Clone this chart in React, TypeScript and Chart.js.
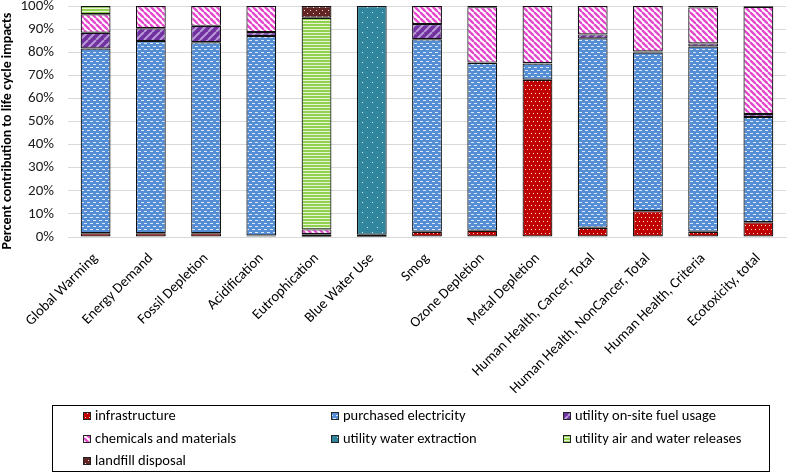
import React, { useEffect, useRef } from "react";
import { Chart, registerables } from "chart.js";

Chart.register(...registerables);

const categories = [
  "Global Warming",
  "Energy Demand",
  "Fossil Depletion",
  "Acidification",
  "Eutrophication",
  "Blue Water Use",
  "Smog",
  "Ozone Depletion",
  "Metal Depletion",
  "Human Health, Cancer, Total",
  "Human Health, NonCancer, Total",
  "Human Health, Criteria",
  "Ecotoxicity, total",
];

const seriesNames = [
  "infrastructure",
  "purchased electricity",
  "utility on-site fuel usage",
  "chemicals and materials",
  "utility water extraction",
  "utility air and water releases",
  "landfill disposal",
];

const infrastructure = [1.6, 1.6, 1.6, 0.7, 0.1, 0.1, 2.3, 2.7, 68.1, 4.0, 11.2, 2.3, 6.4];
const purchasedElectricity = [80.0, 83.2, 82.7, 86.3, 1.1, 0.8, 83.3, 72.6, 7.0, 82.0, 68.7, 80.2, 45.6];
const utilityFuel = [6.8, 5.6, 7.1, 1.7, 0.1, 0, 6.6, 0.2, 0.1, 1.7, 0.4, 1.3, 1.3];
const chemicals = [8.0, 9.6, 8.6, 11.3, 2.0, 0.1, 7.8, 24.0, 24.8, 12.3, 19.7, 15.6, 46.4];
const waterExtraction = [0, 0, 0, 0, 0, 99.0, 0, 0, 0, 0, 0, 0, 0];
const airWaterReleases = [3.6, 0, 0, 0, 91.6, 0, 0, 0, 0, 0, 0, 0, 0];
const landfill = [0, 0, 0, 0, 5.1, 0, 0, 0.5, 0, 0, 0, 0.6, 0.3];

const seriesValues = [
  infrastructure,
  purchasedElectricity,
  utilityFuel,
  chemicals,
  waterExtraction,
  airWaterReleases,
  landfill,
];

const yTicks = [0, 10, 20, 30, 40, 50, 60, 70, 80, 90, 100];

const FONT = "Carlito, Calibri, Lato, sans-serif";

function tile(w: number, h: number, draw: (ctx: CanvasRenderingContext2D) => void): CanvasPattern {
  const c = document.createElement("canvas");
  c.width = w;
  c.height = h;
  const ctx = c.getContext("2d")!;
  draw(ctx);
  return ctx.createPattern(c, "repeat")!;
}

function makePatterns(): CanvasPattern[] {
  const infra = tile(8, 8, (g) => {
    g.fillStyle = "#c00000";
    g.fillRect(0, 0, 8, 8);
    g.fillStyle = "rgba(255,230,230,0.95)";
    [[1, 1], [5, 1], [3, 5], [7, 5]].forEach(([x, y]) => g.fillRect(x, y, 1, 1));
  });
  const elec = tile(6, 6, (g) => {
    g.fillStyle = "#558ed5";
    g.fillRect(0, 0, 6, 6);
    g.fillStyle = "#dbe8f8";
    g.fillRect(0, 1, 3, 1);
    g.fillRect(3, 4, 3, 1);
  });
  const fuel = tile(8, 8, (g) => {
    g.fillStyle = "#7030a0";
    g.fillRect(0, 0, 8, 8);
    g.strokeStyle = "#b99ad6";
    g.lineWidth = 2;
    for (let k = -8; k <= 16; k += 8) {
      g.beginPath();
      g.moveTo(k, 8);
      g.lineTo(k + 8, 0);
      g.stroke();
    }
  });
  const chem = tile(6, 6, (g) => {
    g.fillStyle = "#ffffff";
    g.fillRect(0, 0, 6, 6);
    g.strokeStyle = "#e448cc";
    g.lineWidth = 2.4;
    for (let k = -6; k <= 12; k += 6) {
      g.beginPath();
      g.moveTo(k, 0);
      g.lineTo(k + 6, 6);
      g.stroke();
    }
  });
  const water = tile(10, 10, (g) => {
    g.fillStyle = "#31859c";
    g.fillRect(0, 0, 10, 10);
    g.fillStyle = "#d6eef3";
    g.fillRect(2, 2, 1, 1);
    g.fillRect(7, 7, 1, 1);
  });
  const releases = tile(4, 3, (g) => {
    g.fillStyle = "#92d050";
    g.fillRect(0, 0, 4, 3);
    g.fillStyle = "#e6f4d8";
    g.fillRect(0, 2, 4, 1);
  });
  const land = tile(6, 6, (g) => {
    g.fillStyle = "#632523";
    g.fillRect(0, 0, 6, 6);
    g.fillStyle = "#f0dcdc";
    g.fillRect(1, 1, 1, 1);
    g.fillRect(4, 4, 1, 1);
  });
  return [infra, elec, fuel, chem, water, releases, land];
}

export default function App() {
  const ref = useRef<HTMLCanvasElement | null>(null);

  useEffect(() => {
    document.body.style.margin = "0";
    const canvas = ref.current!;
    const patterns = makePatterns();

    const yTitlePlugin = {
      id: "yTitle",
      afterDraw(chart: any) {
        const ctx = chart.ctx;
        ctx.save();
        ctx.translate(7, 131);
        ctx.rotate(-Math.PI / 2);
        ctx.font = `bold 14px ${FONT}`;
        ctx.fillStyle = "#000";
        ctx.textAlign = "center";
        ctx.textBaseline = "middle";
        ctx.fillText("Percent contribution to life cycle impacts", 0, 0);
        ctx.restore();
      },
    };

    const legendPlugin = {
      id: "boxLegend",
      afterDraw(chart: any) {
        const ctx = chart.ctx;
        ctx.save();
        ctx.strokeStyle = "#000";
        ctx.lineWidth = 1;
        ctx.strokeRect(52.5, 405.5, 717, 66);
        const colX = [83, 331, 563];
        const rowY = [416, 439, 461];
        ctx.font = `14.5px ${FONT}`;
        ctx.textBaseline = "middle";
        ctx.textAlign = "left";
        chart.data.datasets.forEach((ds: any, i: number) => {
          const x = colX[i % 3];
          const y = rowY[Math.floor(i / 3)];
          ctx.fillStyle = ds.backgroundColor;
          ctx.fillRect(x, y - 4, 8, 8);
          ctx.strokeStyle = "#222";
          ctx.strokeRect(x + 0.5, y - 3.5, 7, 7);
          ctx.fillStyle = "#000";
          ctx.fillText(ds.label, x + 12, y);
        });
        ctx.restore();
      },
    };

    const chart = new Chart(canvas, {
      type: "bar",
      data: {
        labels: categories,
        datasets: seriesNames.map((name, i) => ({
          label: name,
          data: seriesValues[i].map((v) => (v > 0 ? v : null)),
          backgroundColor: patterns[i] as any,
          borderColor: "#111",
          borderWidth: 1.2,
          borderSkipped: false,
          categoryPercentage: 1,
          barPercentage: 0.54,
        })),
      },
      options: {
        animation: false,
        responsive: false,
        maintainAspectRatio: false,
        layout: { padding: { top: 6, right: 1, left: 0, bottom: 0 } },
        plugins: {
          legend: { display: false },
          tooltip: { enabled: false },
        },
        scales: {
          x: {
            stacked: true,
            grid: { display: false },
            border: { color: "#d9d9d9", width: 1 },
            ticks: {
              autoSkip: false,
              maxRotation: 45,
              minRotation: 45,
              padding: 5,
              color: "#000",
              font: { family: FONT, size: 14.5 },
            },
            afterFit: (s: any) => {
              s.height = 236;
              s.paddingLeft = 0;
              s.paddingRight = 0;
            },
          },
          y: {
            stacked: true,
            min: 0,
            max: 100,
            afterBuildTicks: (s: any) => {
              s.ticks = yTicks.map((v) => ({ value: v }));
            },
            ticks: {
              padding: 14,
              color: "#1a1a1a",
              font: { family: FONT, size: 15 },
              callback: (v: any) => `${v}%`,
            },
            grid: { color: "#d9d9d9", drawTicks: false },
            border: { display: false },
            afterFit: (s: any) => {
              s.width = 68;
              s.paddingTop = 0;
              s.paddingBottom = 0;
            },
          },
        },
      },
      plugins: [yTitlePlugin, legendPlugin],
    });

    return () => chart.destroy();
  }, []);

  return <canvas ref={ref} width={787} height={473} style={{ display: "block" }} />;
}
